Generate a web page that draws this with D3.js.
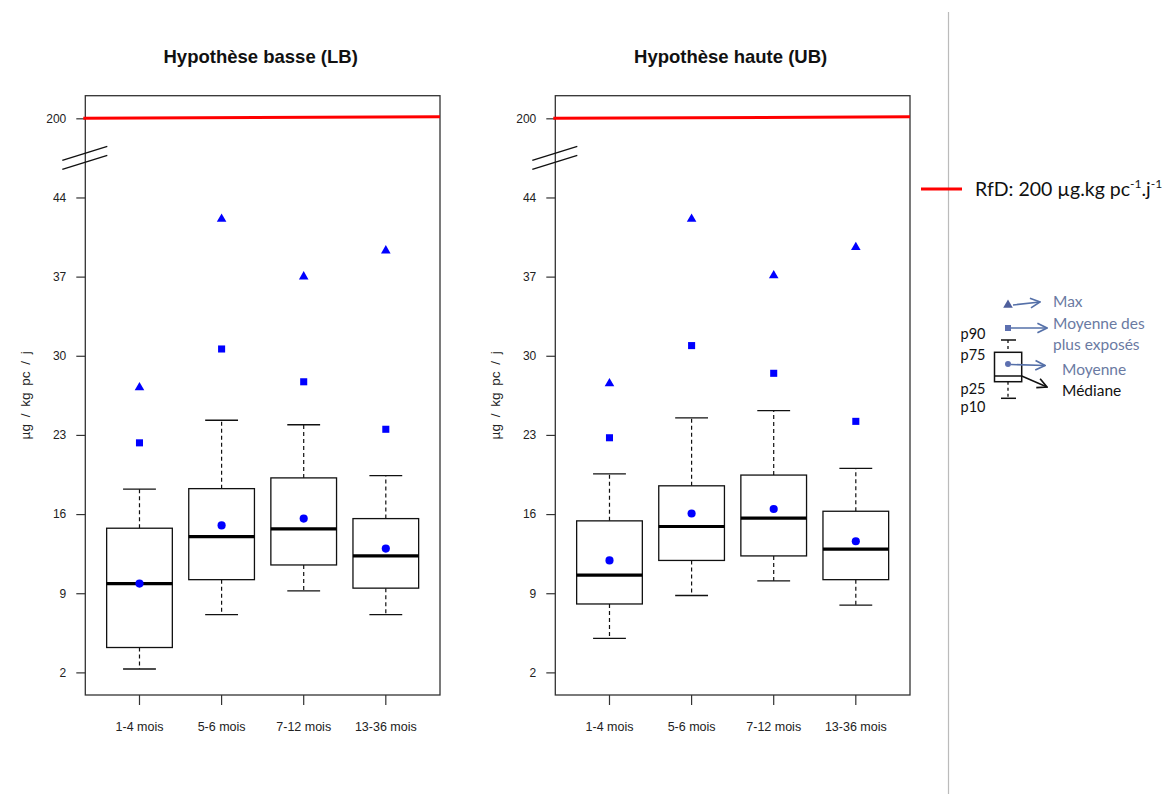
<!DOCTYPE html>
<html>
<head>
  <meta charset="utf-8">
  <title>Hypothèse basse / haute</title>
  <script src="https://d3js.org/d3.v7.min.js"></script>
</head>
<style>
  body {
    margin: 0;
    background: #fff;
    font-family: "Liberation Sans", Arial, sans-serif;
  }
  .axis text {
    font-size: 12px;
    fill: #222;
  }
  .axis line {
    stroke: #333;
    stroke-width: 1.2;
  }
  .axis .domain {
    display: none;
  }
  .legend text {
    font-family: Lato, "Open Sans", sans-serif;
  }
</style>
<body>
  <svg id="chart"></svg>
  <script>
    // categories and tick labels
    const categories = ["1-4 mois", "5-6 mois", "7-12 mois", "13-36 mois"];
    const yTicks = [2, 9, 16, 23, 30, 37, 44];
    const rfdValue = 200;

    // Hypothèse basse (LB)
    const lbP10 = [2.3, 7.1, 9.2, 7.1];
    const lbP25 = [4.2, 10.2, 11.5, 9.45];
    const lbMedian = [9.85, 14.0, 14.7, 12.3];
    const lbP75 = [14.75, 18.25, 19.2, 15.6];
    const lbP90 = [18.2, 24.3, 23.9, 19.4];
    const lbMean = [9.85, 15.0, 15.6, 12.95];
    const lbMeanHigh = [22.3, 30.6, 27.7, 23.5];
    const lbMax = [27.2, 42.1, 37.0, 39.3];

    // Hypothèse haute (UB)
    const ubP10 = [5.0, 8.8, 10.1, 7.95];
    const ubP25 = [8.05, 11.9, 12.3, 10.2];
    const ubMedian = [10.6, 14.9, 15.65, 12.9];
    const ubP75 = [15.4, 18.5, 19.45, 16.25];
    const ubP90 = [19.55, 24.5, 25.15, 20.05];
    const ubMean = [11.9, 16.05, 16.45, 13.6];
    const ubMeanHigh = [22.75, 30.9, 28.45, 24.2];
    const ubMax = [27.55, 42.1, 37.1, 39.6];

    const W = 1176, H = 794;
    const svg = d3.select("#chart")
      .attr("width", W)
      .attr("height", H);

    // the axis is broken: 200 is drawn at this position on the linear scale
    const rfdAxisPos = 51;
    const breakPos = 47.5;

    const plotTop = 95.7, plotBottom = 695, plotWidth = 354.7;
    const y = d3.scaleLinear()
      .domain([0, 53])
      .range([plotBottom, plotTop]);
    const yPos = v => v > 100 ? y(rfdAxisPos) : y(v);

    function buildRows(p10, p25, med, p75, p90, mean, meanHigh, max) {
      return categories.map((c, i) => ({
        cat: c, p10: p10[i], p25: p25[i], med: med[i], p75: p75[i],
        p90: p90[i], mean: mean[i], meanHigh: meanHigh[i], max: max[i]
      }));
    }

    const panels = [
      { title: "Hypothèse basse (LB)", left: 85.3,
        rows: buildRows(lbP10, lbP25, lbMedian, lbP75, lbP90, lbMean, lbMeanHigh, lbMax) },
      { title: "Hypothèse haute (UB)", left: 555.3,
        rows: buildRows(ubP10, ubP25, ubMedian, ubP75, ubP90, ubMean, ubMeanHigh, ubMax) }
    ];

    const blue = "#0000ff";

    panels.forEach(p => {
      const g = svg.append("g");
      const x = d3.scaleBand()
        .domain(categories)
        .range([p.left, p.left + plotWidth])
        .paddingInner(0.2)
        .paddingOuter(0.26);
      const bw = x.bandwidth();
      const cx = d => x(d.cat) + bw / 2;

      // title
      g.append("text")
        .attr("x", p.left + plotWidth / 2 - 2)
        .attr("y", 63)
        .attr("text-anchor", "middle")
        .style("font-weight", "bold")
        .style("font-size", "18.5px")
        .style("fill", "#111")
        .text(p.title);

      // y axis
      const yAxis = d3.axisLeft(y)
        .tickValues(yTicks.concat([rfdAxisPos]))
        .tickFormat(d => d === rfdAxisPos ? String(rfdValue) : d)
        .tickSize(9)
        .tickPadding(10);
      g.append("g")
        .attr("class", "axis")
        .attr("transform", `translate(${p.left},0)`)
        .call(yAxis);

      // x axis
      const xAxis = d3.axisBottom(x)
        .tickSize(10)
        .tickPadding(17);
      g.append("g")
        .attr("class", "axis")
        .attr("transform", `translate(0,${plotBottom})`)
        .call(xAxis)
        .selectAll("text")
        .style("font-size", "12.5px");

      // y label
      g.append("text")
        .attr("transform", `translate(${p.left - 55},${(plotTop + plotBottom) / 2}) rotate(-90)`)
        .attr("text-anchor", "middle")
        .style("font-size", "13.5px")
        .style("word-spacing", "3px")
        .style("fill", "#222")
        .text("µg / kg pc / j");

      // frame
      g.append("rect")
        .attr("x", p.left)
        .attr("y", plotTop)
        .attr("width", plotWidth)
        .attr("height", plotBottom - plotTop)
        .attr("fill", "none")
        .attr("stroke", "#333")
        .attr("stroke-width", 1.3);

      // axis break marks
      [0, 9].forEach(off => {
        g.append("line")
          .attr("x1", p.left - 23).attr("y1", y(breakPos) + 7 + off - 4.5)
          .attr("x2", p.left + 22).attr("y2", y(breakPos) - 7 + off - 4.5)
          .attr("stroke", "#111")
          .attr("stroke-width", 1.4);
      });

      // RfD line
      g.append("line")
        .attr("x1", p.left - 2).attr("x2", p.left + plotWidth)
        .attr("y1", yPos(rfdValue)).attr("y2", yPos(rfdValue) - 1.5)
        .attr("stroke", "#ff0000")
        .attr("stroke-width", 3);

      const box = g.selectAll(".box")
        .data(p.rows)
        .join("g")
        .attr("class", "box");

      // whiskers
      box.append("line")
        .attr("x1", cx).attr("x2", cx)
        .attr("y1", d => y(d.p75)).attr("y2", d => y(d.p90))
        .attr("stroke", "#111").attr("stroke-width", 1.2)
        .attr("stroke-dasharray", "4,3");
      box.append("line")
        .attr("x1", cx).attr("x2", cx)
        .attr("y1", d => y(d.p25)).attr("y2", d => y(d.p10))
        .attr("stroke", "#111").attr("stroke-width", 1.2)
        .attr("stroke-dasharray", "4,3");
      box.append("line")
        .attr("x1", d => cx(d) - bw / 4).attr("x2", d => cx(d) + bw / 4)
        .attr("y1", d => y(d.p90)).attr("y2", d => y(d.p90))
        .attr("stroke", "#111").attr("stroke-width", 1.3);
      box.append("line")
        .attr("x1", d => cx(d) - bw / 4).attr("x2", d => cx(d) + bw / 4)
        .attr("y1", d => y(d.p10)).attr("y2", d => y(d.p10))
        .attr("stroke", "#111").attr("stroke-width", 1.3);

      // box
      box.append("rect")
        .attr("x", d => x(d.cat))
        .attr("width", bw)
        .attr("y", d => y(d.p75))
        .attr("height", d => y(d.p25) - y(d.p75))
        .attr("fill", "#fff")
        .attr("stroke", "#111")
        .attr("stroke-width", 1.3);

      // median
      box.append("line")
        .attr("x1", d => x(d.cat)).attr("x2", d => x(d.cat) + bw)
        .attr("y1", d => y(d.med)).attr("y2", d => y(d.med))
        .attr("stroke", "#000").attr("stroke-width", 3.2);

      // mean, mean of most exposed, max
      box.append("path")
        .attr("d", d3.symbol(d3.symbolCircle, 52))
        .attr("transform", d => `translate(${cx(d)},${y(d.mean)})`)
        .attr("fill", blue);
      box.append("path")
        .attr("d", d3.symbol(d3.symbolSquare, 50))
        .attr("transform", d => `translate(${cx(d)},${y(d.meanHigh)})`)
        .attr("fill", blue);
      box.append("path")
        .attr("d", d3.symbol(d3.symbolTriangle, 40))
        .attr("transform", d => `translate(${cx(d)},${y(d.max)})`)
        .attr("fill", blue);
    });

    // divider
    svg.append("line")
      .attr("x1", 948.5).attr("x2", 948.5)
      .attr("y1", 12).attr("y2", H)
      .attr("stroke", "#bbb")
      .attr("stroke-width", 1.2);

    // legend
    const legend = svg.append("g").attr("class", "legend");
    const slate = "#5570a8";
    const slateText = "#6a7aa2";

    svg.append("defs").selectAll("marker")
      .data([["arrowSlate", slate], ["arrowBlack", "#111"]])
      .join("marker")
      .attr("id", d => d[0])
      .attr("viewBox", "0 0 10 10")
      .attr("refX", 9).attr("refY", 5)
      .attr("markerWidth", 12).attr("markerHeight", 12)
      .attr("markerUnits", "userSpaceOnUse")
      .attr("orient", "auto")
      .append("path")
      .attr("d", "M1,1 L9,5 L1,9")
      .attr("fill", "none")
      .attr("stroke", d => d[1])
      .attr("stroke-width", 1.4);

    legend.append("line")
      .attr("x1", 921).attr("x2", 962)
      .attr("y1", 189).attr("y2", 189)
      .attr("stroke", "#ff0000")
      .attr("stroke-width", 3);
    const rfdText = legend.append("text")
      .attr("x", 975).attr("y", 196)
      .style("font-size", "19.5px")
      .style("fill", "#111");
    rfdText.append("tspan").text("RfD: " + rfdValue + " µg.kg pc");
    rfdText.append("tspan").attr("dy", -8).style("font-size", "12px").text("-1");
    rfdText.append("tspan").attr("dy", 8).text(".j");
    rfdText.append("tspan").attr("dy", -8).style("font-size", "12px").text("-1");

    // mini box
    legend.append("path")
      .attr("d", d3.symbol(d3.symbolTriangle, 40))
      .attr("transform", "translate(1008,305)")
      .attr("fill", "#4f5f9c");
    legend.append("rect")
      .attr("x", 1005).attr("y", 325).attr("width", 6).attr("height", 6)
      .attr("fill", "#5d70b0");
    legend.append("line")
      .attr("x1", 1008).attr("x2", 1008).attr("y1", 340).attr("y2", 352.3)
      .attr("stroke", "#111").attr("stroke-width", 1.3).attr("stroke-dasharray", "3,3");
    legend.append("line")
      .attr("x1", 1008).attr("x2", 1008).attr("y1", 381.7).attr("y2", 398.3)
      .attr("stroke", "#111").attr("stroke-width", 1.3).attr("stroke-dasharray", "3,3");
    legend.append("line")
      .attr("x1", 1001).attr("x2", 1016).attr("y1", 340).attr("y2", 340)
      .attr("stroke", "#111").attr("stroke-width", 1.5);
    legend.append("line")
      .attr("x1", 1001).attr("x2", 1016).attr("y1", 398.3).attr("y2", 398.3)
      .attr("stroke", "#111").attr("stroke-width", 1.5);
    legend.append("rect")
      .attr("x", 994.5).attr("y", 352.3).attr("width", 27.2).attr("height", 29.4)
      .attr("fill", "#fff").attr("stroke", "#111").attr("stroke-width", 1.5);
    legend.append("line")
      .attr("x1", 994.5).attr("x2", 1021.7).attr("y1", 376).attr("y2", 376)
      .attr("stroke", "#111").attr("stroke-width", 1.5);
    legend.append("circle")
      .attr("cx", 1008).attr("cy", 364).attr("r", 3)
      .attr("fill", "#5d70b0");

    // arrows
    [[1013, 305, 1040, 302], [1011, 328, 1047, 328], [1011, 364.5, 1045, 365.5]].forEach(a => {
      legend.append("line")
        .attr("x1", a[0]).attr("y1", a[1]).attr("x2", a[2]).attr("y2", a[3])
        .attr("stroke", slate).attr("stroke-width", 1.6)
        .attr("marker-end", "url(#arrowSlate)");
    });
    legend.append("line")
      .attr("x1", 1021.7).attr("y1", 376).attr("x2", 1047).attr("y2", 387)
      .attr("stroke", "#111").attr("stroke-width", 1.4)
      .attr("marker-end", "url(#arrowBlack)");

    const legendTexts = [
      ["Max", 1053, 307, slateText],
      ["Moyenne des", 1053, 329, slateText],
      ["plus exposés", 1053, 350, slateText],
      ["Moyenne", 1062, 375, slateText],
      ["Médiane", 1062, 396, "#111"]
    ];
    legend.selectAll(".lt")
      .data(legendTexts)
      .join("text")
      .attr("class", "lt")
      .attr("x", d => d[1]).attr("y", d => d[2])
      .style("font-size", "15.5px")
      .style("fill", d => d[3])
      .text(d => d[0]);

    const pLabels = [["p90", 338.5], ["p75", 359.5], ["p25", 393.5], ["p10", 412]];
    legend.selectAll(".pl")
      .data(pLabels)
      .join("text")
      .attr("class", "pl")
      .attr("x", 960.5).attr("y", d => d[1])
      .style("font-size", "14.5px")
      .style("fill", "#111")
      .text(d => d[0]);
  </script>
</body>
</html>
